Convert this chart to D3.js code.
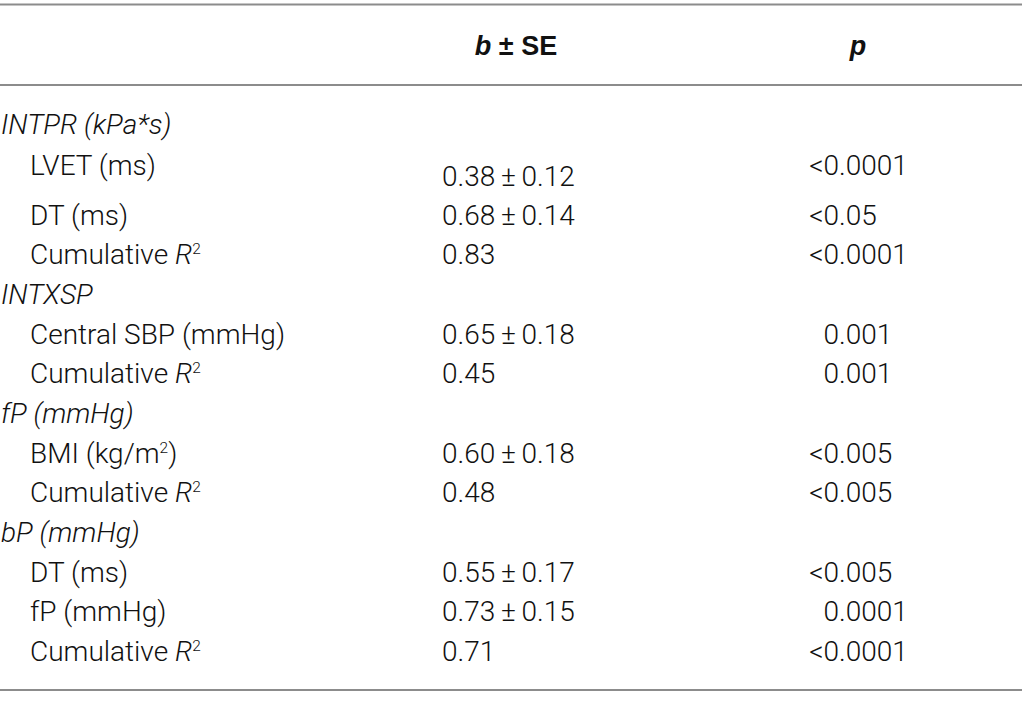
<!DOCTYPE html>
<html>
<head>
<meta charset="utf-8">
<script src="https://cdn.jsdelivr.net/npm/d3@7"></script>
<style>
  html, body { margin: 0; padding: 0; background: #ffffff; }
  svg { display: block; }
</style>
</head>
<body>
<div id="chart"></div>
<script>
// ---------------- data ----------------
const headerB = ["b", " ± ", "SE"];
const headerP = "p";

const rowLabels = [
  "INTPR (kPa*s)",
  "LVET (ms)",
  "DT (ms)",
  "Cumulative R²",
  "INTXSP",
  "Central SBP (mmHg)",
  "Cumulative R²",
  "fP (mmHg)",
  "BMI (kg/m²)",
  "Cumulative R²",
  "bP (mmHg)",
  "DT (ms)",
  "fP (mmHg)",
  "Cumulative R²"
];
const rowIsGroup = [true, false, false, false, true, false, false, true, false, false, true, false, false, false];
const bEstimates = [null, "0.38", "0.68", "0.83", null, "0.65", "0.45", null, "0.60", "0.48", null, "0.55", "0.73", "0.71"];
const bErrors    = [null, "0.12", "0.14", null,   null, "0.18", null,   null, "0.18", null,   null, "0.17", "0.15", null];
const pValues    = [null, "<0.0001", "<0.05", "<0.0001", null, "0.001", "0.001", null, "<0.005", "<0.005", null, "<0.005", "0.0001", "<0.0001"];

// ---------------- layout ----------------
const W = 1022, H = 706;
const FONT = "Roboto, 'Liberation Sans', Arial, sans-serif";
const HFONT = "'Liberation Sans', Arial, Helvetica, sans-serif";
const FS = 28;
const LINE_COLOR = "#8c8c8c";
const TEXT_COLOR = "#111111";

const svg = d3.select("#chart").append("svg")
  .attr("width", W).attr("height", H)
  .attr("viewBox", `0 0 ${W} ${H}`);
svg.append("rect").attr("width", W).attr("height", H).attr("fill", "#fff");

// column positions via scales
const col = d3.scaleOrdinal()
  .domain(["group", "item", "b", "bHeader", "pDec", "pHeader"])
  .range([1, 30, 442, 516, 839, 858]);

// row baselines via a linear scale; the LVET row is taller (value sits lower)
const n = rowLabels.length;
const extra = i => (i >= 2 ? 11.5 : (i === 1 ? 1.3 : 0));
const yRow = d3.scaleLinear().domain([0, n - 1]).range([134, 661 - 11.5]);
const baseline = i => yRow(i) + extra(i);
const bDropRows = new Set([1]);   // b value drawn lower in this row
const B_DROP = 11;

// rules
const rules = [4.5, 85, 690];
svg.selectAll("line.rule").data(rules).join("line")
  .attr("class", "rule")
  .attr("x1", 0).attr("x2", W)
  .attr("y1", d => d).attr("y2", d => d)
  .attr("stroke", LINE_COLOR).attr("stroke-width", 2);

// header
const hb = svg.append("text")
  .attr("x", col("bHeader")).attr("y", 55)
  .attr("text-anchor", "middle")
  .attr("font-family", HFONT).attr("font-size", 27).attr("font-weight", "bold")
  .attr("fill", TEXT_COLOR);
hb.selectAll("tspan").data(headerB).join("tspan")
  .attr("font-style", (d, i) => i === 0 ? "italic" : "normal")
  .text(d => d);

svg.append("text")
  .attr("x", col("pHeader")).attr("y", 55)
  .attr("text-anchor", "middle")
  .attr("font-family", HFONT).attr("font-size", 27).attr("font-weight", "bold")
  .attr("font-style", "italic")
  .attr("fill", TEXT_COLOR)
  .text(headerP);

// rows
const rows = d3.range(n).map(i => ({
  i, label: rowLabels[i], group: rowIsGroup[i],
  b: bEstimates[i], se: bErrors[i], p: pValues[i]
}));

const g = svg.append("g")
  .attr("font-family", FONT).attr("font-size", FS).attr("font-weight", 300)
  .attr("fill", TEXT_COLOR);

// label column
rows.forEach(r => {
  const t = g.append("text")
    .attr("x", r.group ? col("group") : col("item"))
    .attr("y", baseline(r.i))
    .attr("font-style", r.group ? "italic" : "normal");
  const parts = [];
  if (r.label.includes("R²")) {
    parts.push({ t: r.label.replace("R²", ""), style: "normal" });
    parts.push({ t: "R", style: "italic" });
    parts.push({ t: "2", sup: true });
  } else if (r.label.includes("²")) {
    const [a, b] = r.label.split("²");
    parts.push({ t: a });
    parts.push({ t: "2", sup: true });
    parts.push({ t: b, unsup: true });
  } else {
    parts.push({ t: r.label });
  }
  parts.forEach(p => {
    const s = t.append("tspan").text(p.t);
    if (p.style) s.attr("font-style", p.style);
    if (p.sup) s.attr("font-size", FS * 0.55).attr("dy", -10);
    if (p.unsup) s.attr("dy", 10);
  });
});

// b column
rows.filter(r => r.b !== null).forEach(r => {
  const y = baseline(r.i) + (bDropRows.has(r.i) ? B_DROP : 0);
  const txt = r.se !== null ? `${r.b}\u2009±\u2009${r.se}` : r.b;
  g.append("text")
    .attr("x", col("b")).attr("y", y)
    .text(txt);
});

// p column, aligned on the decimal point
rows.filter(r => r.p !== null).forEach(r => {
  const k = r.p.indexOf(".");
  const y = baseline(r.i);
  g.append("text")
    .attr("x", col("pDec")).attr("y", y)
    .attr("text-anchor", "end")
    .text(r.p.slice(0, k));
  g.append("text")
    .attr("x", col("pDec")).attr("y", y)
    .attr("text-anchor", "start")
    .text(r.p.slice(k));
});
</script>
</body>
</html>
